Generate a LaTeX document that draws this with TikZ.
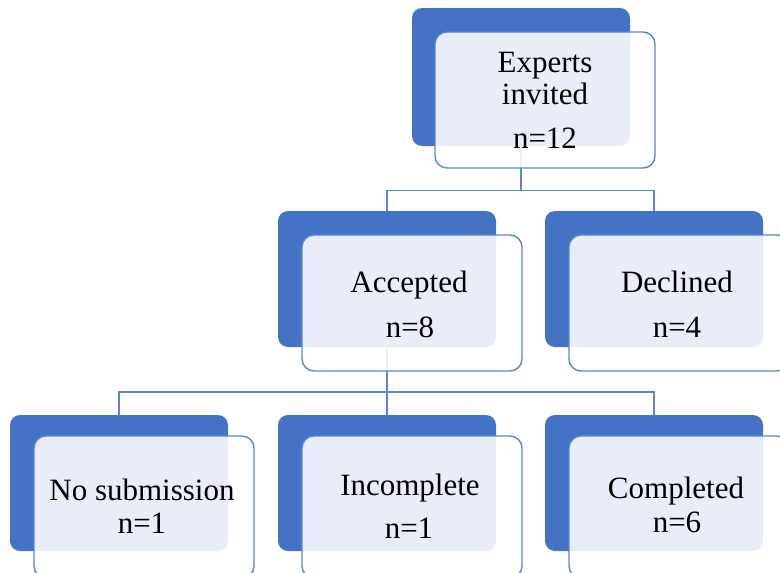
\documentclass[tikz,border=0pt]{standalone}
\usepackage{fontspec}
\setmainfont{Liberation Serif}
\definecolor{sablue}{HTML}{4472C4}
\definecolor{lineblue}{HTML}{5B86D1}
\begin{document}
\begin{tikzpicture}[x=1pt,y=-1pt,
 backbox/.style={fill=sablue, rounded corners=10pt, minimum width=218pt, minimum height=136pt, inner sep=0pt, draw=none},
 frontbox/.style={fill=white, fill opacity=0.88, draw=lineblue, line width=1.4pt, rounded corners=12pt, minimum width=220pt, minimum height=136pt, inner sep=0pt},
 lbl/.style={font=\fontsize{31}{33}\selectfont, anchor=base, inner sep=0pt},
 conn/.style={draw=lineblue, line width=1.3pt}]
\useasboundingbox (0,0) rectangle (780,573);
\clip (0,0) rectangle (780,573);
% back boxes
\node[backbox, minimum height=138pt] (topB) at (521,77) {};
\node[backbox] (accB) at (387,279) {};
\node[backbox] (decB) at (654,279) {};
\node[backbox] (noB) at (119,483) {};
\node[backbox] (incB) at (387,483) {};
\node[backbox] (comB) at (654,483) {};
% connectors
\coordinate (j1) at (521,190.5);
\coordinate (j2) at (387,392);
\draw[conn] (topB.south) -- (j1);
\draw[conn] (j1) -| (accB.north);
\draw[conn] (j1) -| (decB.north);
\draw[conn] (accB.south) -- (j2);
\draw[conn] (j2) -| (noB.north);
\draw[conn] (j2) -- (incB.north);
\draw[conn] (j2) -| (comB.north);
% front boxes
\node[frontbox] (topF) at (545,100) {};
\node[frontbox] (accF) at (412,303) {};
\node[frontbox] (decF) at (679,303) {};
\node[frontbox, minimum height=142pt] (noF) at (144,507) {};
\node[frontbox, minimum height=142pt] (incF) at (412,507) {};
\node[frontbox, minimum height=142pt] (comF) at (679,507) {};
% labels
\node[lbl] (t1a) at (545,72) {Experts};
\node[lbl] (t1b) at (545,104) {invited};
\node[lbl] (t1c) at (545,148) {n=12};
\node[lbl] (t2a) at (409,292) {Accepted};
\node[lbl] (t2b) at (410,337) {n=8};
\node[lbl] (t3a) at (677,292) {Declined};
\node[lbl] (t3b) at (677,337) {n=4};
\node[lbl] (t4a) at (142,500) {No submission};
\node[lbl] (t4b) at (142,533) {n=1};
\node[lbl] (t5a) at (410,495) {Incomplete};
\node[lbl] (t5b) at (409,538) {n=1};
\node[lbl] (t6a) at (676,498) {Completed};
\node[lbl] (t6b) at (677,532) {n=6};
\end{tikzpicture}
\end{document}
